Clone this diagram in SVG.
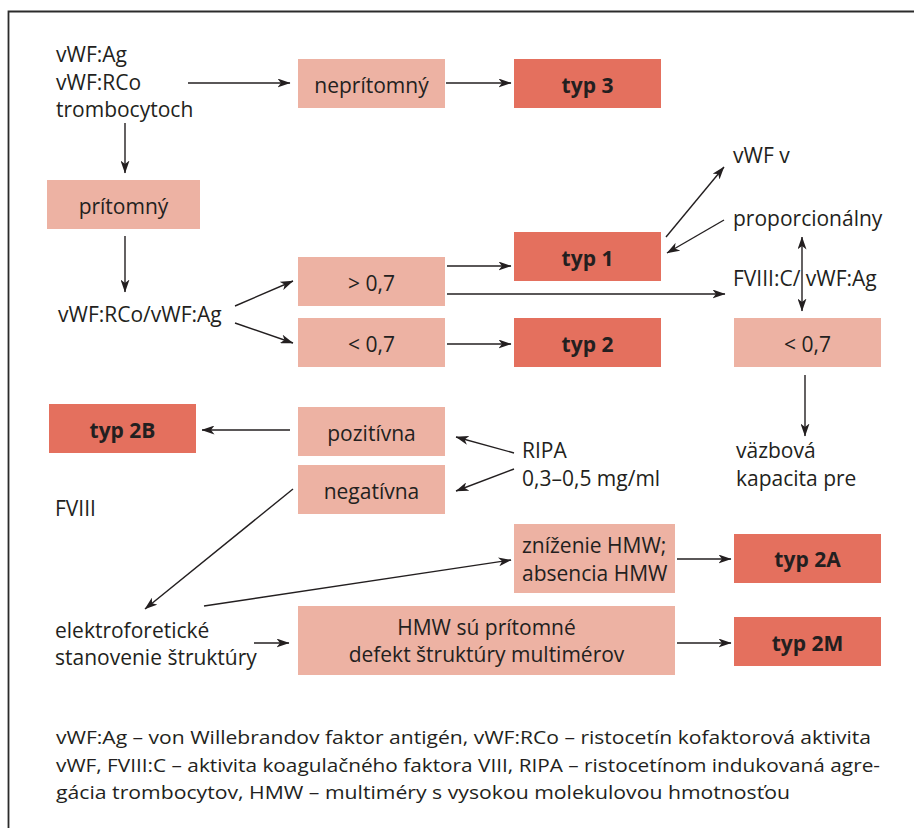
<svg xmlns="http://www.w3.org/2000/svg" width="914" height="828" viewBox="0 0 914 828">
<defs>
<marker id="ah" viewBox="0 0 13 9" refX="12.5" refY="4.5" markerWidth="13" markerHeight="9" markerUnits="userSpaceOnUse" orient="auto-start-reverse">
<path d="M0,0 L13,4.5 L0,9 L3.5,4.5 z" fill="#231f20"/>
</marker>
<style>
text{font-family:"Open Sans","Liberation Sans",sans-serif;font-size:21px;fill:#231f20}
.c{text-anchor:middle}
.b{font-weight:bold}
.lt{fill:#edb2a3}
.dk{fill:#e4705e}
.lg{font-size:18.5px}
#connectors line{stroke:#231f20;stroke-width:1.4;marker-end:url(#ah)}
</style>
</defs>
<rect width="914" height="828" fill="#fff"/>
<path d="M8.5,828 V11.5 H914" fill="none" stroke="#2b2b2b" stroke-width="1.8"/>

<g id="src">
<text x="56" y="62">vWF:Ag</text>
<text x="56" y="90">vWF:RCo</text>
<text x="56" y="117">trombocytoch</text>
</g>
<g id="nepritomny"><rect class="lt" x="298" y="59" width="147" height="49"/><text class="c" x="371.5" y="93">neprítomný</text></g>
<g id="typ3"><rect class="dk" x="514" y="59" width="147" height="49"/><text class="c b" x="587.5" y="93">typ 3</text></g>
<g id="pritomny"><rect class="lt" x="47" y="180" width="153" height="49"/><text class="c" x="123.5" y="214">prítomný</text></g>
<g id="ratio"><text x="58" y="322">vWF:RCo/vWF:Ag</text></g>
<g id="gt07"><rect class="lt" x="298" y="257" width="147" height="49"/><text class="c" x="371.5" y="291">&gt; 0,7</text></g>
<g id="lt07"><rect class="lt" x="298" y="318" width="147" height="49"/><text class="c" x="371.5" y="352">&lt; 0,7</text></g>
<g id="typ1"><rect class="dk" x="514" y="232" width="147" height="49"/><text class="c b" x="587.5" y="266">typ 1</text></g>
<g id="typ2"><rect class="dk" x="514" y="318" width="147" height="49"/><text class="c b" x="587.5" y="352">typ 2</text></g>
<g id="vwfv"><text x="733" y="163">vWF v</text></g>
<g id="prop"><text x="733" y="226">proporcionálny</text></g>
<g id="fviiic"><text x="733" y="286">FVIII:C/ vWF:Ag</text></g>
<g id="lt07r"><rect class="lt" x="734" y="318" width="147" height="49"/><text class="c" x="807.5" y="352">&lt; 0,7</text></g>
<g id="vazbova"><text x="736" y="458">väzbová</text><text x="736" y="486">kapacita pre</text></g>
<g id="typ2b"><rect class="dk" x="49" y="404" width="147" height="49"/><text class="c b" x="122.5" y="438">typ 2B</text></g>
<g id="pozitivna"><rect class="lt" x="298" y="407" width="147" height="49"/><text class="c" x="371.5" y="441">pozitívna</text></g>
<g id="negativna"><rect class="lt" x="298" y="465" width="147" height="49"/><text class="c" x="371.5" y="499">negatívna</text></g>
<g id="ripa"><text x="522" y="458">RIPA</text><text x="522" y="486">0,3–0,5 mg/ml</text></g>
<g id="fviii"><text x="55" y="516">FVIII</text></g>
<g id="elektro"><text x="55" y="638">elektroforetické</text><text x="55" y="665">stanovenie štruktúry</text></g>
<g id="znizenie"><rect class="lt" x="514" y="524" width="161" height="69"/><text x="522" y="553">zníženie HMW;</text><text x="522" y="581">absencia HMW</text></g>
<g id="typ2a"><rect class="dk" x="734" y="534" width="147" height="49"/><text class="c b" x="807.5" y="567">typ 2A</text></g>
<g id="hmw"><rect class="lt" x="298" y="606" width="377" height="69"/><text class="c" x="486.5" y="635">HMW sú prítomné</text><text class="c" x="486.5" y="662">defekt štruktúry multimérov</text></g>
<g id="typ2m"><rect class="dk" x="734" y="617" width="147" height="49"/><text class="c b" x="807.5" y="651">typ 2M</text></g>

<g id="connectors">
<line x1="188" y1="83" x2="290" y2="83"/>
<line x1="446" y1="83" x2="511" y2="83"/>
<line x1="125" y1="123" x2="125" y2="173"/>
<line x1="125" y1="236" x2="125" y2="292"/>
<line x1="235" y1="306" x2="293" y2="281"/>
<line x1="235" y1="323" x2="293" y2="343"/>
<line x1="447" y1="266" x2="511" y2="266"/>
<line x1="447" y1="294" x2="725" y2="294"/>
<line x1="447" y1="344" x2="511" y2="344"/>
<line x1="666" y1="237" x2="724" y2="167"/>
<line x1="724" y1="220" x2="667" y2="253"/>
<line x1="802" y1="237" x2="802" y2="311" marker-start="url(#ah)"/>
<line x1="805" y1="375" x2="805" y2="436"/>
<line x1="290" y1="430" x2="202" y2="430"/>
<line x1="514" y1="453" x2="456" y2="437"/>
<line x1="514" y1="469" x2="456" y2="491"/>
<line x1="293" y1="489" x2="145" y2="609"/>
<line x1="204" y1="606" x2="511" y2="560"/>
<line x1="254" y1="643" x2="289" y2="643"/>
<line x1="677" y1="559" x2="731" y2="559"/>
<line x1="677" y1="643" x2="731" y2="643"/>
</g>

<g id="legend">
<text class="lg" x="56" y="744" textLength="815" lengthAdjust="spacingAndGlyphs">vWF:Ag – von Willebrandov faktor antigén, vWF:RCo – ristocetín kofaktorová aktivita</text>
<text class="lg" x="56" y="772" textLength="824" lengthAdjust="spacingAndGlyphs">vWF, FVIII:C – aktivita koagulačného faktora VIII, RIPA – ristocetínom indukovaná agre-</text>
<text class="lg" x="56" y="799" textLength="734" lengthAdjust="spacingAndGlyphs">gácia trombocytov, HMW – multiméry s vysokou molekulovou hmotnosťou</text>
</g>
</svg>
